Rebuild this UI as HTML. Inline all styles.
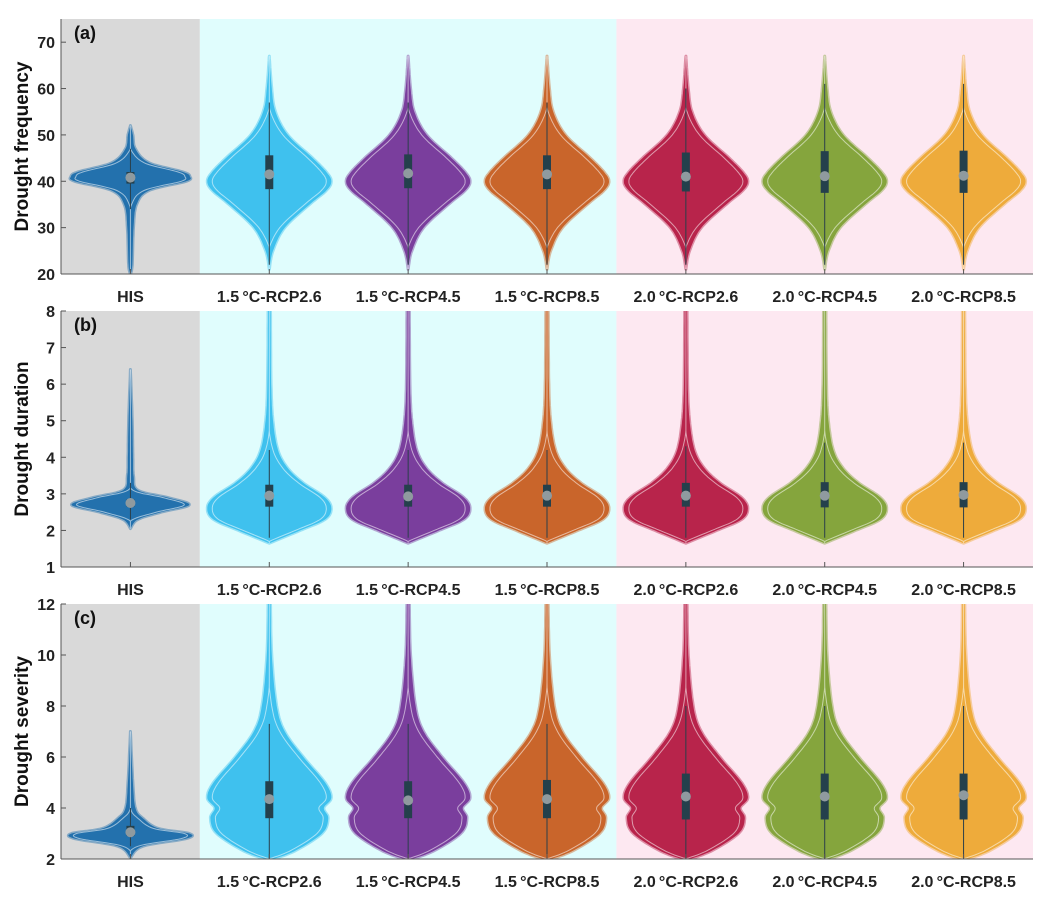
<!DOCTYPE html>
<html><head><meta charset="utf-8">
<style>
body{margin:0;background:#fff;width:1048px;height:904px;overflow:hidden;font-family:"Liberation Sans",sans-serif;}
svg text{font-family:"Liberation Sans",sans-serif;font-weight:bold;}
</style></head>
<body>
<svg id="chart" width="1048" height="904" xmlns="http://www.w3.org/2000/svg"></svg>
<script>
const categories = ["HIS","1.5\u2009\u00B0C-RCP2.6","1.5\u2009\u00B0C-RCP4.5","1.5\u2009\u00B0C-RCP8.5","2.0\u2009\u00B0C-RCP2.6","2.0\u2009\u00B0C-RCP4.5","2.0\u2009\u00B0C-RCP8.5"];
const colors = ["#2371ad","#3fc1ee","#7a3e9d","#c9652b","#b8244b","#85a53d","#eeab3b"];
const panelLabels = ["(a)","(b)","(c)"];
const yTitles = ["Drought frequency","Drought duration","Drought severity"];
const yTicksA = [20,30,40,50,60,70];
const yTicksB = [1,2,3,4,5,6,7,8];
const yTicksC = [2,4,6,8,10,12];
// density profiles: [value, relative half-width 0..1]
const profHisA = [[20,0],[22,0.03],[30,0.05],[35,0.1],[38,0.3],[40,0.9],[41,0.96],[42,0.85],[44,0.3],[47,0.08],[50,0.04],[52,0]];
const profScnA = [[21,0],[25,0.06],[30,0.25],[35,0.65],[38,0.92],[40,1],[42,0.92],[45,0.7],[50,0.3],[55,0.1],[60,0.04],[67,0]];
const profHisB = [[2.05,0],[2.3,0.12],[2.5,0.5],[2.7,0.95],[2.9,0.6],[3.1,0.12],[3.5,0.05],[4,0.04],[5,0.03],[6.4,0]];
const profScnB = [[1.65,0],[2.0,0.5],[2.3,0.9],[2.6,1],[2.9,0.9],[3.3,0.55],[3.7,0.3],[4.2,0.14],[5,0.06],[6,0.03],[8,0.02]];
const profHisC = [[2.05,0],[2.5,0.2],[2.8,0.9],[3.0,0.95],[3.2,0.45],[3.6,0.2],[4,0.08],[5,0.04],[7,0]];
const profScnC = [[1.95,0],[2.3,0.4],[3,0.85],[3.6,0.95],[4,0.88],[4.4,1],[5,0.9],[6,0.55],[7,0.25],[8,0.12],[10,0.04],[12,0.02]];
const medA = [40.8,41.5,41.7,41.5,41.0,41.1,41.2];
const q1A = [39.5,38.3,38.5,38.3,37.8,37.5,37.5];
const q3A = [42.0,45.6,45.8,45.6,46.2,46.5,46.6];
const medB = [2.75,2.95,2.93,2.95,2.95,2.95,2.97];
const q1B = [2.65,2.65,2.65,2.65,2.65,2.63,2.63];
const q3B = [2.85,3.25,3.25,3.25,3.3,3.32,3.32];
const medC = [3.05,4.35,4.3,4.35,4.45,4.45,4.5];
const q1C = [2.9,3.6,3.6,3.6,3.55,3.55,3.55];
const q3C = [3.3,5.05,5.05,5.1,5.35,5.35,5.35];

const NS="http://www.w3.org/2000/svg";
const svg=document.getElementById('chart');
function mk(tag,attrs,parent){const e=document.createElementNS(NS,tag);for(const k in attrs)e.setAttribute(k,attrs[k]);(parent||svg).appendChild(e);return e;}
const X0=61,X1=1033,step=(X1-X0)/7;
const xc=i=>X0+step*(i+0.5);
const panels=[
 {top:19,bot:274,min:20,max:75,ticks:yTicksA,his:profHisA,scn:profScnA,med:medA,q1:q1A,q3:q3A,wlo:[34,22,22,22,22,22,22],whi:[47,57,57,57,60,61,61]},
 {top:311,bot:567,min:1,max:8,ticks:yTicksB,his:profHisB,scn:profScnB,med:medB,q1:q1B,q3:q3B,wlo:[2.3,1.8,1.8,1.8,1.8,1.8,1.8],whi:[3.3,4.2,4.2,4.2,4.3,4.4,4.4]},
 {top:604,bot:859,min:2,max:12,ticks:yTicksC,his:profHisC,scn:profScnC,med:medC,q1:q1C,q3:q3C,wlo:[2.5,2,2,2,2,2,2],whi:[4,7.3,7.3,7.3,8,8,8]}
];
const HW=62;
// Catmull-Rom densify
function smooth(pts){
 const out=[];
 for(let i=0;i<pts.length-1;i++){
  const p0=pts[Math.max(0,i-1)],p1=pts[i],p2=pts[i+1],p3=pts[Math.min(pts.length-1,i+2)];
  for(let t=0;t<1;t+=0.1){
   const t2=t*t,t3=t2*t;
   const f=k=>0.5*((2*p1[k])+(-p0[k]+p2[k])*t+(2*p0[k]-5*p1[k]+4*p2[k]-p3[k])*t2+(-p0[k]+3*p1[k]-3*p2[k]+p3[k])*t3);
   out.push([f(0),Math.max(0,f(1))]);
  }
 }
 out.push(pts[pts.length-1]);
 return out;
}
panels.forEach((p,pi)=>{
 const g=mk('g',{});
 
 
 const y=v=>p.bot-(v-p.min)/(p.max-p.min)*(p.bot-p.top);
 const bgs=[[X0,X0+step,'#d9d9d9'],[X0+step,X0+step*4,'#e0fdfd'],[X0+step*4,X1,'#fde8f1']];
 bgs.forEach((b,bi)=>{const r=mk('rect',{x:b[0],y:p.top,width:b[1]-b[0],height:p.bot-p.top,fill:b[2]},g);
  
  });
 const cp=mk('clipPath',{id:'cp'+pi},g);mk('rect',{x:X0,y:p.top,width:X1-X0,height:p.bot-p.top},cp);
 const vg=mk('g',{'clip-path':'url(#cp'+pi+')'},g);
 categories.forEach((c,i)=>{
  const prof=smooth(i==0?p.his:p.scn);const cx=xc(i);
  let R=[],L=[],Ri=[],Li=[];
  prof.forEach(([v,w])=>{const h=w*HW;const yy=y(v);R.push([cx+h,yy]);L.push([cx-h,yy]);const hi=Math.max(0,h-5);Ri.push([cx+hi,yy]);Li.push([cx-hi,yy]);});
  const path=(A,B)=>'M'+A.map(q=>q[0].toFixed(1)+','+q[1].toFixed(1)).join('L')+'L'+B.slice().reverse().map(q=>q[0].toFixed(1)+','+q[1].toFixed(1)).join('L')+'Z';
  const vp=mk('path',{d:path(R,L),fill:colors[i],stroke:colors[i],'stroke-opacity':0.45,'stroke-width':3,'stroke-linejoin':'round'},vg);
  
  
  mk('path',{d:path(Ri,Li),fill:'none',stroke:'#fff','stroke-opacity':0.55,'stroke-width':1},vg);
  mk('line',{x1:cx,x2:cx,y1:y(p.wlo[i]),y2:y(p.whi[i]),stroke:'#2a3f4a','stroke-width':1},vg);
  const bx=mk('rect',{x:cx-4,y:y(p.q3[i]),width:8,height:y(p.q1[i])-y(p.q3[i]),fill:'#24404c'},vg);
  
  
  mk('circle',{cx:cx,cy:y(p.med[i]),r:5,fill:'#8f9a9f'},vg);
  const t=mk('text',{x:cx,y:p.bot+28,'text-anchor':'middle','font-size':16,fill:'#222'},g);t.textContent=c;
  
  
 });
 mk('line',{x1:X0,x2:X0,y1:p.top,y2:p.bot,stroke:'#555','stroke-width':1},g);
 mk('line',{x1:X0,x2:X1,y1:p.bot,y2:p.bot,stroke:'#555','stroke-width':1},g);
 categories.forEach((c,i)=>mk('line',{x1:xc(i),x2:xc(i),y1:p.bot,y2:p.bot-5,stroke:'#555'},g));
 p.ticks.forEach(v=>{mk('line',{x1:X0,x2:X0+5,y1:y(v),y2:y(v),stroke:'#555'},g);
  const t=mk('text',{x:X0-6,y:y(v)+6,'text-anchor':'end','font-size':16,fill:'#222'},g);t.textContent=v;
  
  });
 const yt=mk('text',{x:0,y:0,transform:`translate(28,${(p.top+p.bot)/2}) rotate(-90)`,'text-anchor':'middle','font-size':19,fill:'#111'},g);
 yt.textContent=yTitles[pi];
 
 
 const pl=mk('text',{x:74,y:p.top+20,'font-size':18,fill:'#111'},g);pl.textContent=panelLabels[pi];
 
 
});
</script>
</body></html>
